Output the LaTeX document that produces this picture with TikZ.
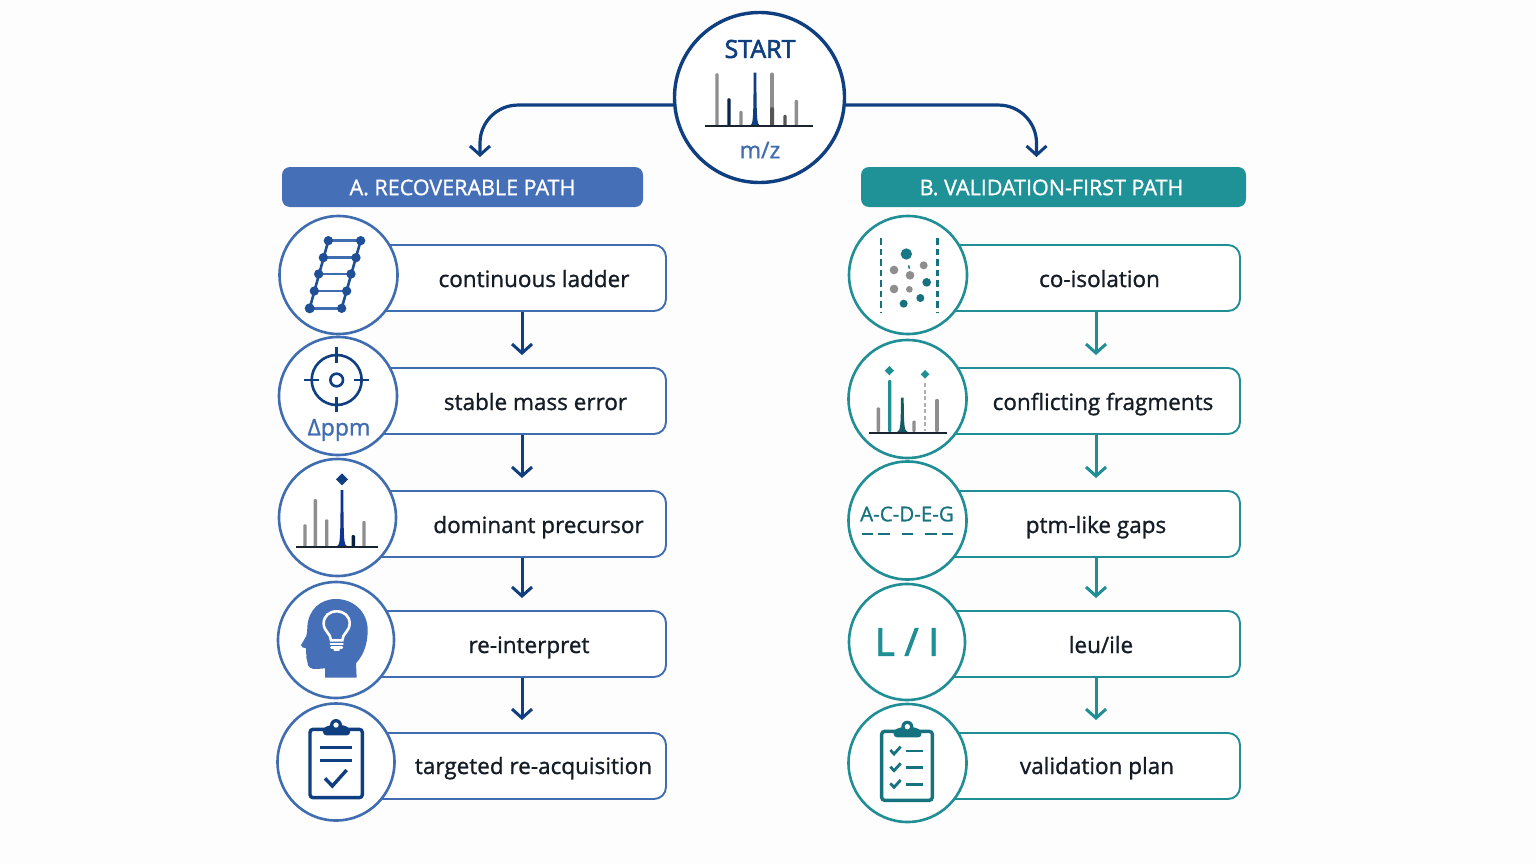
\documentclass[tikz,border=0pt]{standalone}
\usepackage{fontspec}
\usetikzlibrary{arrows.meta}
\setmainfont{Open Sans}
\newfontfamily\labf{Open Sans}[FakeBold=1.1]
\newfontfamily\strongf{Open Sans}[FakeBold=2.4]
\definecolor{navy}{HTML}{0F3F80}
\definecolor{blueS}{HTML}{3F6DB0}
\definecolor{blueH}{HTML}{4570B8}
\definecolor{tealS}{HTML}{1F8E95}
\definecolor{tealD}{HTML}{17727F}
\definecolor{tealH}{HTML}{1F9297}
\definecolor{peakG}{HTML}{8E8E8E}
\definecolor{axisK}{HTML}{1A2430}
\definecolor{inkT}{HTML}{141C26}
\definecolor{paper}{HTML}{FDFDFD}
\tikzset{
 x=1pt,y=-1pt,
 circA/.style={circle,draw=blueS,fill=white,line width=2.6pt,inner sep=0pt,minimum size=#1},
 circB/.style={circle,draw=tealS,fill=white,line width=2.6pt,inner sep=0pt,minimum size=#1},
 boxA/.style={draw=#1,rounded corners=12pt,line width=1.9pt,fill=white,minimum height=66pt,inner sep=0pt},
 lab/.style={text=inkT,anchor=base,font=\labf\fontsize{22.5}{26}\selectfont,inner sep=0pt},
 head/.style={rounded corners=8pt,minimum height=40pt,inner sep=0pt},
 headt/.style={text=white,font=\labf\fontsize{21.5}{24}\selectfont,inner sep=0pt},
 conn/.style={line width=3pt,draw=#1,shorten >=12pt,-{Straight Barb[length=9pt,width=20pt,line width=3pt]}},
 hub/.style={rounded corners=38pt,line width=3.2pt,draw=navy,-{Straight Barb[length=9pt,width=20pt,line width=3pt]}},
 zoomA/.style={shift={(270,#1)},scale=1/3},
 zoomB/.style={shift={(840,#1)},scale=1/3},
}
% tall bar in zoomed coordinates: x, top, base, half width, colour
\newcommand\zpk[5]{\fill[#5,rounded corners=1pt] (#1-#4,#3) -- (#1-#4,#2) -- (#1+#4,#2) -- (#1+#4,#3) -- cycle;}
% tapered peak
\newcommand\ztp[5]{\fill[#5] (#1-3.2*#4,#3) .. controls (#1-#4,#3-4) and (#1-#4,#3-20) .. (#1-0.8*#4,#2) -- (#1+0.8*#4,#2) .. controls (#1+#4,#3-20) and (#1+#4,#3-4) .. (#1+3.2*#4,#3) -- cycle;}
\newcommand\zdia[4]{\fill[#4] (#1-#3,#2) -- (#1,#2-#3) -- (#1+#3,#2) -- (#1,#2+#3) -- cycle;}
\begin{document}
\begin{tikzpicture}
\useasboundingbox (0,0) rectangle (1536,864);
\fill[paper] (0,0) rectangle (1536,864);
% start
\node[circle,draw=navy,fill=white,line width=3.4pt,inner sep=0pt,minimum size=170pt] (start) at (759.5,97.5) {};
\node[inner sep=0pt,text=navy,font=\strongf\fontsize{25}{27}\selectfont] (starttxt) at (760,49) {START};
\node[inner sep=0pt,text=blueS,font=\labf\fontsize{23}{25}\selectfont] (mz) at (760,150) {m/z};
\begin{scope}[shift={(660,0)},scale=1/3]
 \zpk{171}{220}{378}{5}{peakG}
 \zpk{207}{295}{378}{5}{navy!60!black}
 \zpk{243}{333}{378}{5}{peakG}
 \ztp{285}{218}{378}{5}{navy}
 \zpk{336}{218}{378}{5.5}{peakG}
 \zpk{336}{322}{378}{6}{peakG!60!black}
 \zpk{375}{345}{378}{5}{peakG!60!black}
 \zpk{409}{300}{378}{5}{peakG}
 \draw[axisK,line width=2.2pt] (136,379) -- (460,379);
\end{scope}
% headers
\node[head,fill=blueH,minimum width=361pt] (ha) at (462.5,187) {};
\node[headt] (hat) at (462.5,187.5) {A. RECOVERABLE PATH};
\node[head,fill=tealH,minimum width=385pt] (hb) at (1053.5,187) {};
\node[headt] (hbt) at (1051.5,187.5) {B. VALIDATION-FIRST PATH};
% hub connectors
\coordinate (ta) at (480,157);
\coordinate (tb) at (1036.5,157);
\draw[hub] (start.185) -| (ta);
\draw[hub] (start.-5) -| (tb);
% boxes A
\node[boxA=blueS,minimum width=316pt] (a1) at (508,278) {};
\node[boxA=blueS,minimum width=316pt] (a2) at (508,401) {};
\node[boxA=blueS,minimum width=316pt] (a3) at (508,524) {};
\node[boxA=blueS,minimum width=316pt] (a4) at (508,644) {};
\node[boxA=blueS,minimum width=316pt] (a5) at (508,766) {};
% boxes B
\node[boxA=tealS,minimum width=320pt] (b1) at (1080,278) {};
\node[boxA=tealS,minimum width=320pt] (b2) at (1080,401) {};
\node[boxA=tealS,minimum width=320pt] (b3) at (1080,524) {};
\node[boxA=tealS,minimum width=320pt] (b4) at (1080,644) {};
\node[boxA=tealS,minimum width=320pt] (b5) at (1080,766) {};
% labels
\node[lab] (la1) at (534,287) {continuous ladder};
\node[lab] (la2) at (535.5,410) {stable mass error};
\node[lab] (la3) at (538.5,533) {dominant precursor};
\node[lab] (la4) at (529,653) {re-interpret};
\node[lab] (la5) at (533.5,774) {targeted re-acquisition};
\node[lab] (lb1) at (1099.5,287) {co-isolation};
\node[lab] (lb2) at (1103,410) {conflicting fragments};
\node[lab] (lb3) at (1096,533) {ptm-like gaps};
\node[lab] (lb4) at (1101,653) {leu/ile};
\node[lab] (lb5) at (1097,774) {validation plan};
% arrows
\foreach \i/\j in {1/2,2/3,3/4,4/5}{
 \draw[conn=navy] ([xshift=14pt]a\i.south) -- ([xshift=14pt]a\j.north);
 \draw[conn=tealS] ([xshift=16pt]b\i.south) -- ([xshift=16pt]b\j.north);
}
% circles A
\node[circA=118pt] (ca1) at (338.5,275) {};
\node[circA=118pt] (ca2) at (338,396) {};
\node[circA=117pt] (ca3) at (337.5,517.5) {};
\node[circA=116pt] (ca4) at (336,640) {};
\node[circA=117pt] (ca5) at (336,762) {};
% circles B
\node[circB=118pt] (cb1) at (908,275) {};
\node[circB=118pt] (cb2) at (907.5,399) {};
\node[circB=118pt] (cb3) at (907.5,520.5) {};
\node[circB=116pt] (cb4) at (907,642) {};
\node[circB=118pt] (cb5) at (907.5,763) {};
% ladder
\begin{scope}[zoomA=210]
 \definecolor{rail}{HTML}{1F4F96}
 \draw[blueS,line width=2.6pt] (175,92)--(272,92) (160,143)--(258,143) (146,192)--(243,192) (133,243)--(230,243) (119,295)--(215,295);
 \draw[rail,line width=2.6pt] (175,92)--(119,295) (272,92)--(215,295);
 \foreach \p/\r in {175/92,160/143,146/192,133/243,272/92,258/143,243/192,230/243,215/295}{\fill[rail] (\p,\r) circle (14);}
 \fill[rail] (119,295) circle (15);
\end{scope}
% target
\begin{scope}[zoomA=210]
 \draw[navy,line width=2.6pt] (200,510) circle (75) (200,510) circle (19);
 \draw[navy,line width=2.6pt] (103,510)--(148,510) (253,510)--(297,510) (200,412)--(200,458) (200,560)--(200,605);
\end{scope}
\node[inner sep=0pt,text=blueS,font=\labf\fontsize{23}{25}\selectfont] (dppm) at (339,430) {Δppm};
% precursor
\begin{scope}[zoomA=455]
 \zpk{105}{208}{275}{5}{peakG}
 \zpk{136}{132}{275}{5}{peakG}
 \zpk{170}{193}{275}{5}{peakG}
 \ztp{216}{105}{275}{5}{navy!85!blue}
 \zpk{250}{240}{275}{5}{navy!50!black}
 \zpk{282}{198}{275}{5}{peakG}
 \draw[axisK,line width=2.2pt] (78,277) -- (323,277);
 \zdia{216}{73}{18}{navy}
\end{scope}
% head
\begin{scope}[zoomA=455]
 \fill[blueH] (260,668) -- (258,625) .. controls (285,595) and (293,560) .. (293,525)
   .. controls (293,470) and (250,432) .. (198,432)
   .. controls (150,432) and (115,465) .. (112,515)
   .. controls (112,530) and (110,545) .. (105,550) -- (93,570)
   .. controls (92,577) and (100,578) .. (108,580) -- (108,595)
   .. controls (108,600) and (112,602) .. (109,607) .. controls (112,612) and (112,615) .. (112,620)
   .. controls (112,638) and (125,643) .. (140,642) -- (165,640) -- (165,668) -- cycle;
 \draw[white,line width=2.6pt] (183,556) .. controls (183,535) and (161,530) .. (161,505)
   .. controls (161,483) and (178,469) .. (200,469)
   .. controls (222,469) and (239,483) .. (239,505)
   .. controls (239,530) and (217,535) .. (217,556) -- cycle;
 \draw[white,line width=2.4pt,line cap=round] (182,567)--(218,567) (184,577)--(216,577);
 \draw[white,line width=2pt,line cap=round] (193,584)--(207,584);
\end{scope}
% clipboard A
\begin{scope}[zoomA=695]
 \draw[navy,line width=3.4pt,rounded corners=3pt] (120,103) rectangle (277,308);
 \fill[navy,rounded corners=3pt] (160,121) -- (158,100) -- (180,90) -- (220,90) -- (240,100) -- (240,121) -- cycle;
 \fill[navy] (198,90) circle (18);
 \fill[white] (198,90) circle (8);
 \draw[navy,line width=3pt] (150,157)--(247,157) (150,195)--(247,195);
 \draw[navy,line width=3.4pt] (165,250)--(187,273)--(230,225);
\end{scope}
% co-isolation
\begin{scope}[zoomB=210]
 \draw[tealD,line width=2.4pt,dash pattern=on 6.5pt off 4pt] (123,85)--(123,310) (293,85)--(293,310);
 \fill[tealD!80!tealS] (199,132) circle (17);
 \fill[tealD] (260,217) circle (13) (241,264) circle (12) (191,281) circle (12);
 \fill[peakG] (162,180) circle (13) (251,166) circle (12) (210,196) circle (13) (162,237) circle (13) (208,238) circle (10);
 \draw[tealD,line width=1.4pt] (206,166)--(208,176);
\end{scope}
% conflicting
\begin{scope}[zoomB=210]
 \zpk{115}{592}{666}{5}{peakG}
 \zpk{149}{510}{666}{5}{tealS}
 \ztp{187}{563}{666}{5}{tealD!80!black}
 \zpk{222}{632}{666}{5}{peakG}
 \draw[peakG!70!white,line width=2pt,dash pattern=on 4pt off 2.5pt] (255,520)--(255,664);
 \zpk{291}{567}{666}{5.5}{peakG}
 \draw[axisK,line width=2.2pt] (88,668) -- (322,668);
 \zdia{148}{482}{14}{tealS}
 \zdia{255}{493}{13}{tealS}
\end{scope}
% gaps
\node[inner sep=0pt,text=tealD,font=\labf\fontsize{20.5}{22}\selectfont] (acdeg) at (907,514) {A-C-D-E-G};
\begin{scope}[zoomB=455]
 \draw[tealD,line width=2.2pt] (65,237)--(100,237) (115,237)--(150,237) (185,237)--(220,237) (255,237)--(290,237) (305,237)--(340,237);
\end{scope}
% L / I
\node[inner sep=0pt,text=tealS,font=\strongf\fontsize{38}{40}\selectfont] (li) at (907,642) {L / I};
% clipboard B
\begin{scope}[zoomB=695]
 \draw[tealD,line width=3.4pt,rounded corners=3pt] (125,109) rectangle (277,316);
 \fill[tealD,rounded corners=3pt] (162,127) -- (160,106) -- (184,96) -- (222,96) -- (244,106) -- (244,127) -- cycle;
 \fill[tealD] (202,95) circle (18);
 \fill[white] (202,95) circle (8);
 \foreach \yy in {165,215,265}{
  \draw[tealD,line width=2.8pt] (151,\yy)--(162,\yy+12)--(182,\yy-10);
  \draw[tealD,line width=2.8pt] (197,\yy+3)--(250,\yy+3);
 }
\end{scope}
\end{tikzpicture}
\end{document}
